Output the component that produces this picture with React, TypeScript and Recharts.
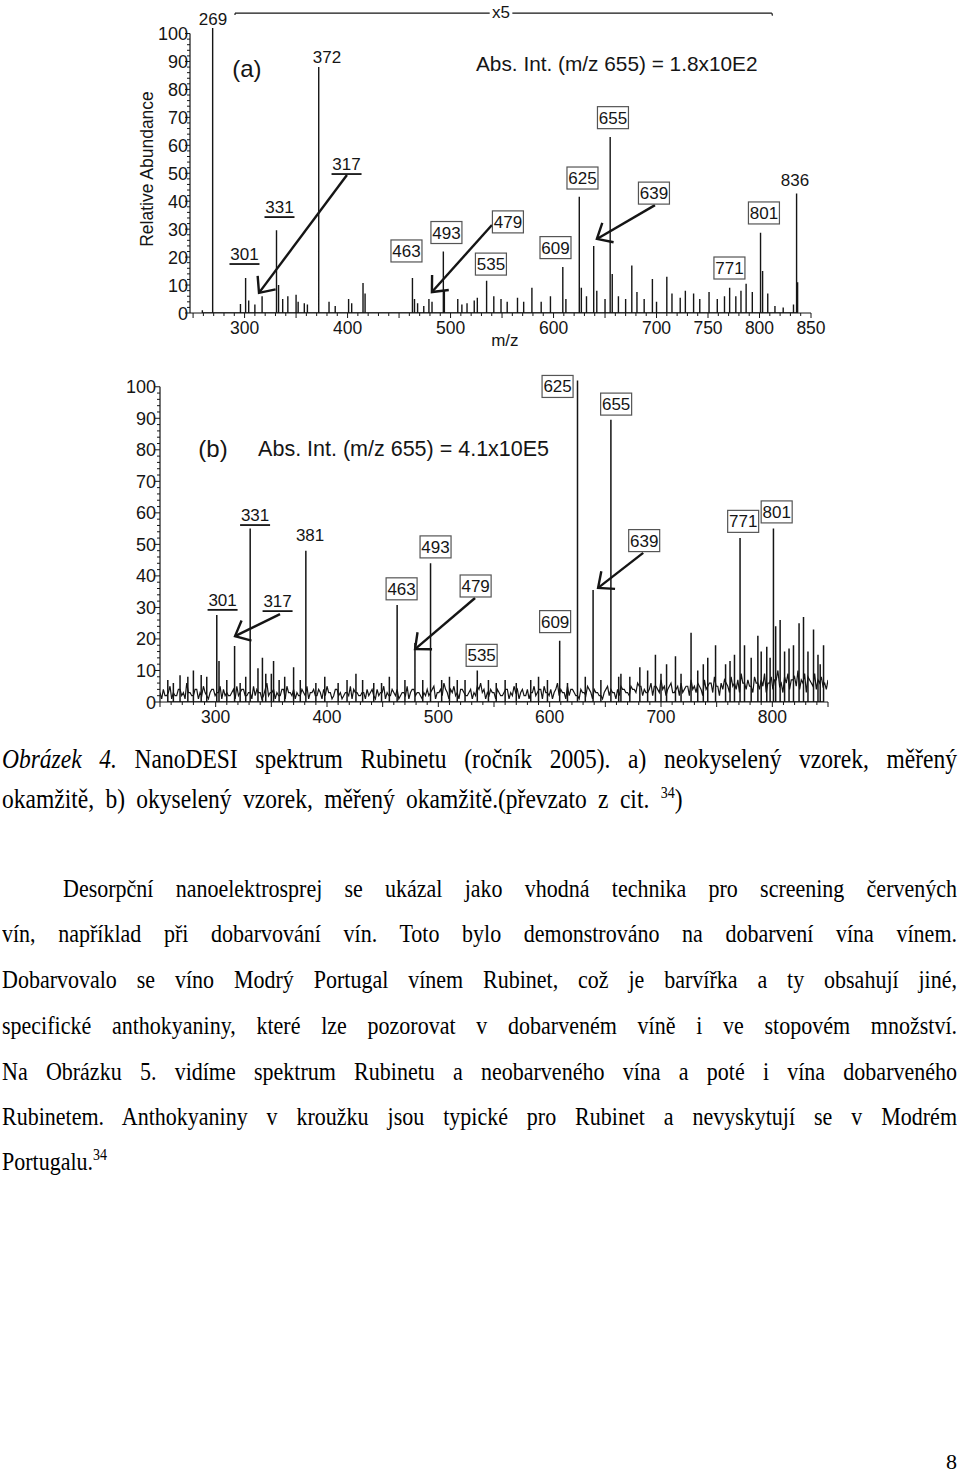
import React from 'react'
import { LineChart, Line, XAxis, YAxis, ReferenceLine, ReferenceDot } from 'recharts'

const SANS = '"Liberation Sans", Arial, Helvetica, sans-serif'
const SERIF = '"Liberation Serif", "Times New Roman", serif'
const INK = '#151515'

// ---- panel (a): unacidified sample, stick spectrum (m/z, relative abundance %) ----
const mzA = [259, 269, 296, 301, 304, 310, 317, 331, 333, 337, 342, 350, 352, 358, 361, 372, 382, 388, 401, 404, 415, 417, 463, 465, 468, 474, 479, 482, 493, 494, 507, 511, 516, 523, 526, 535, 542, 549, 555, 565, 571, 579, 588, 597, 609, 612, 625, 627, 632, 639, 642, 650, 655, 657, 663, 670, 676, 681, 688, 696, 700, 710, 715, 723, 728, 736, 742, 751, 759, 766, 771, 777, 782, 787, 793, 801, 803, 808, 815, 823, 833, 836, 837]
const abundA = [1, 102, 3.2, 12.5, 4.5, 3, 6, 29.6, 10, 5, 6, 6.5, 4, 3.5, 3, 88, 4, 2.5, 5, 3.5, 10.7, 7, 12.5, 5, 3.5, 2.5, 5, 4, 22, 8, 5, 3, 3.5, 4.5, 5.5, 11.5, 6, 5, 4, 5.5, 4, 9, 4, 6, 16.5, 5, 41.6, 9, 6, 24, 8, 5, 63, 14, 6, 5, 17, 7.5, 5, 12.2, 4, 13, 7, 5.5, 8, 7, 5, 7.5, 5, 6, 9, 6, 8, 10.5, 7.5, 28.7, 15, 7, 2.5, 2, 3, 42.8, 11]
const xLabelsA = [300, 400, 500, 600, 700, 750, 800, 850]

// annotations: [m/z, level, text]
const boxedA: [number, number, string][] = [
  [457.2, 22.2, '463'], [496, 28.8, '493'], [555.7, 32.6, '479'], [539.2, 17.5, '535'],
  [601.9, 23.4, '609'], [628.1, 48.3, '625'], [657.7, 69.9, '655'], [697.5, 42.9, '639'],
  [770.8, 16.1, '771'], [804.3, 35.8, '801'],
]
const underlinedA: [number, number, string][] = [[299.9, 21.1, '301'], [333.9, 37.9, '331'], [399, 53.3, '317']]
const plainA: [number, number, string][] = [[269.3, 105.2, '269'], [380, 91.6, '372'], [834.4, 47.6, '836'], [548.9, 107.7, 'x5']]
// arrows: [tail m/z, tail level, head m/z, head level]
const arrowsA: [number, number, number, number][] = [
  [399.4, 49.4, 314, 7.2], [540.2, 31.5, 481.9, 7.5], [698.5, 38.6, 642.1, 26.5],
]

// ---- panel (b): acidified sample, noisy baseline + peaks ----
const noiseStepB = 3
const noiseStartB = 250
const noiseB = [
  3, 4, 2, 5, 3, 2, 4, 3, 6, 3, 2, 4, 3, 5, 2, 3, 4, 3, 5, 4,
  3, 2, 4, 5, 3, 4, 2, 3, 5, 4, 3, 2, 6, 3, 4, 3, 2, 4, 5, 3,
  4, 3, 2, 3, 5, 3, 4, 2, 3, 4, 5, 3, 2, 4, 3, 2, 3, 5, 4, 3,
  2, 3, 4, 3, 2, 4, 3, 5, 3, 2, 3, 4, 2, 3, 5, 3, 4, 3, 2, 3,
  4, 3, 5, 3, 4, 6, 3, 4, 5, 3, 4, 3, 2, 4, 3, 5, 6, 4, 3, 4,
  3, 4, 2, 3, 4, 3, 5, 4, 3, 2, 4, 3, 5, 3, 4, 5, 3, 4, 3, 6,
  4, 3, 5, 4, 3, 2, 4, 3, 5, 3, 4, 3, 2, 3, 5, 4, 3, 4, 5, 4,
  3, 5, 4, 6, 5, 4, 3, 6, 5, 4, 7, 5, 4, 6, 3, 5, 6, 4, 5, 7,
  5, 6, 4, 7, 5, 6, 8, 5, 6, 7, 5, 8, 6, 7, 9, 6, 7, 5, 8, 6,
  7, 9, 6, 8, 7, 10, 6, 8, 9, 7, 8, 10, 7, 9, 8, 6, 9, 7, 8, 6,
  7,
]
// second read of the baseline, half a step further on
const noiseStartB2 = 251.5
const noiseB2 = [
  1, 2, 3, 1, 2, 4, 2, 1, 3, 2, 4, 1, 2, 3, 1, 4, 2, 3, 1, 2,
  2, 3, 1, 2, 4, 2, 3, 1, 2, 3, 1, 4, 2, 3, 1, 2, 4, 1, 3, 2,
  1, 2, 4, 2, 1, 3, 2, 4, 1, 2, 3, 1, 4, 2, 1, 3, 2, 1, 3, 2,
  3, 1, 2, 4, 1, 2, 3, 1, 2, 4, 2, 1, 3, 2, 1, 4, 2, 3, 1, 2,
  2, 4, 1, 3, 2, 4, 1, 3, 2, 1, 4, 2, 3, 1, 2, 4, 3, 1, 2, 3,
  1, 3, 2, 4, 1, 2, 3, 1, 4, 2, 1, 3, 2, 4, 1, 3, 2, 1, 4, 2,
  3, 1, 2, 4, 2, 1, 3, 2, 4, 1, 3, 2, 1, 4, 2, 3, 1, 2, 4, 3,
  2, 4, 3, 5, 2, 3, 4, 2, 5, 3, 4, 2, 5, 3, 4, 2, 3, 5, 2, 4,
  3, 5, 2, 4, 6, 3, 5, 2, 4, 6, 3, 5, 4, 3, 6, 4, 5, 3, 6, 4,
  5, 3, 6, 4, 7, 5, 3, 6, 4, 7, 5, 4, 6, 3, 7, 5, 4, 6, 5, 4,
]
const mzB = [257, 262, 268, 275, 280, 287, 292, 301, 303, 310, 317, 322, 327, 331, 338, 342, 345, 350, 352, 357, 362, 370, 376, 381, 390, 398, 410, 418, 426, 432, 442, 449, 456, 463, 470, 479, 486, 493, 503, 510, 517, 524, 535, 545, 552, 560, 570, 583, 590, 598, 609, 616, 625, 632, 639, 646, 655, 662, 664, 672, 681, 688, 695, 700, 705, 713, 718, 727, 733, 738, 742, 749, 758, 762, 766, 771, 775, 781, 787, 790, 795, 798, 801, 803, 807, 811, 815, 819, 824, 828, 832, 837, 841, 843, 846]
const abundB = [7, 6, 8.5, 8, 10, 8.6, 8, 27.6, 13, 7, 17.8, 6, 8, 55, 10.7, 14, 9, 9, 13, 7, 8, 11, 7, 48, 6, 8, 6, 7, 9, 7, 6, 6, 8, 30.8, 7, 18.7, 7, 44, 7, 8, 7, 7, 10, 7, 6, 7, 6, 7, 8, 7, 19.4, 6, 102, 8, 35.5, 7, 89.5, 8, 9, 8, 11, 10, 15, 9, 12, 14.5, 9, 22, 10, 12, 14, 18, 12, 13, 15, 52, 18, 14, 21, 16, 17.5, 14, 55, 24, 26, 16, 17, 18, 25, 27, 16, 23, 15, 12, 18]
const xLabelsB = [300, 400, 500, 600, 700, 800]

const boxedB: [number, number, string][] = [
  [467, 35.9, '463'], [497.5, 49.2, '493'], [533.5, 36.8, '479'], [538.9, 14.8, '535'],
  [604.9, 25.5, '609'], [607.1, 100.1, '625'], [659.7, 94.5, '655'], [684.9, 51.2, '639'],
  [773.8, 57.3, '771'], [803.9, 60.3, '801'],
]
const underlinedB: [number, number, string][] = [[306.2, 32.4, '301'], [335.4, 59.3, '331'], [355.6, 32, '317']]
const plainB: [number, number, string][] = [[384.8, 53, '381']]
const arrowsB: [number, number, number, number][] = [
  [357.8, 27.9, 317.4, 20.9], [533, 33, 479.1, 16.8], [684, 47.3, 643.5, 36.2],
]

// ---- helpers ----
const sticks = (mz: number[], ab: number[]) =>
  mz.flatMap((m, i) => [{ mz: m, v: 0 }, { mz: m, v: ab[i] }, { mz: m, v: 0 }])
const profile = (start: number, step: number, vals: number[]) =>
  vals.map((v, i) => ({ mz: start + i * step, v }))

const ruler = (from: number, to: number, step: number) => {
  const t: number[] = []
  for (let m = from; m <= to; m += step) t.push(m)
  return t
}
const yRuler = ruler(0, 100, 2)

const makeXTick = (labels: number[]) => (p: any) => {
  const v = p.payload.value
  return (
    <g>
      <line x1={p.x} x2={p.x} y1={p.y} y2={p.y + (v % 50 === 0 ? 5 : 3)} stroke={INK} strokeWidth={1} />
      {labels.includes(v) && (
        <text x={p.x} y={p.y + 21} textAnchor="middle" fontSize={17.5} fontFamily={SANS} fill={INK}>
          {v}
        </text>
      )}
    </g>
  )
}

const makeYTick = (gap: number) => (p: any) => {
  const v = p.payload.value
  const major = v % 10 === 0
  return (
    <g>
      <line x1={p.x - (major ? 5 : 3)} x2={p.x} y1={p.y} y2={p.y} stroke={INK} strokeWidth={1} />
      {major && (
        <text x={p.x - gap} y={p.y} dy={6.5} textAnchor="end" fontSize={18} fontFamily={SANS} fill={INK}>
          {v}
        </text>
      )}
    </g>
  )
}

const boxShape = (text: string) => (p: any) => (
  <g>
    <rect x={p.cx - 15.5} y={p.cy - 11} width={31} height={22} fill="#fff" stroke="#555" strokeWidth={1.2} />
    <text x={p.cx} y={p.cy} dy={6} textAnchor="middle" fontSize={17} fontFamily={SANS} fill={INK}>{text}</text>
  </g>
)

const underShape = (text: string) => (p: any) => (
  <g>
    <text x={p.cx} y={p.cy} dy={6} textAnchor="middle" fontSize={17} fontFamily={SANS} fill={INK}>{text}</text>
    <line x1={p.cx - 15} x2={p.cx + 15} y1={p.cy + 10} y2={p.cy + 10} stroke={INK} strokeWidth={1.8} />
  </g>
)

const textShape = (text: string, size: number, anchor = 'middle') => (p: any) => (
  <text x={p.cx} y={p.cy} dy={size * 0.36} textAnchor={anchor} fontSize={size} fontFamily={SANS} fill={INK}>
    {text}
  </text>
)

// tail -> head, open V head
const arrowShape = (p: any) => {
  const { x1, y1, x2, y2 } = p
  const ang = Math.atan2(y1 - y2, x1 - x2)
  const L = 17
  const s = 0.72
  const ax = x2 + L * Math.cos(ang - s)
  const ay = y2 + L * Math.sin(ang - s)
  const bx = x2 + L * Math.cos(ang + s)
  const by = y2 + L * Math.sin(ang + s)
  return (
    <g>
      <line x1={x1} y1={y1} x2={x2} y2={y2} stroke={INK} strokeWidth={2.4} />
      <polyline points={`${ax},${ay} ${x2},${y2} ${bx},${by}`} fill="none" stroke={INK} strokeWidth={2.4} />
    </g>
  )
}

const renderAnnotations = (
  boxed: [number, number, string][],
  underlined: [number, number, string][],
  plain: [number, number, string][],
  arrows: [number, number, number, number][],
) => [
  ...arrows.map(([tm, tv, hm, hv], i) => (
    <ReferenceLine key={`ar${i}`} segment={[{ x: tm, y: tv }, { x: hm, y: hv }]} shape={arrowShape} />
  )),
  ...boxed.map(([m, v, t]) => <ReferenceDot key={`bx${t}`} x={m} y={v} r={0} shape={boxShape(t)} />),
  ...underlined.map(([m, v, t]) => <ReferenceDot key={`ul${t}`} x={m} y={v} r={0} shape={underShape(t)} />),
  ...plain.map(([m, v, t]) => <ReferenceDot key={`pl${t}`} x={m} y={v} r={0} shape={textShape(t, 17)} />),
]

function SpectrumA() {
  const data = sticks(mzA, abundA)
  return (
    <LineChart width={960} height={360} margin={{ top: 0, right: 149, bottom: 17, left: 130 }}>
      <XAxis
        type="number"
        dataKey="mz"
        domain={[247, 850]}
        allowDataOverflow
        ticks={ruler(250, 850, 10)}
        interval={0}
        tick={makeXTick(xLabelsA)}
        tickLine={false}
        tickSize={0}
        tickMargin={0}
        height={30}
        stroke={INK}
        label={(p: any) => (
          <text x={p.viewBox.x + p.viewBox.width * 0.507} y={p.viewBox.y + 33} textAnchor="middle" fontSize={17} fontFamily={SANS} fill={INK}>
            m/z
          </text>
        )}
      />
      <YAxis
        type="number"
        domain={[0, 112]}
        allowDataOverflow
        ticks={yRuler}
        interval={0}
        tick={makeYTick(2)}
        tickLine={false}
        axisLine={false}
        tickSize={0}
        tickMargin={0}
        width={60}
        label={(p: any) => (
          <text
            transform={`translate(${p.viewBox.x + 17}, ${p.viewBox.y + p.viewBox.height * 0.54}) rotate(-90)`}
            textAnchor="middle"
            dominantBaseline="central"
            fontSize={17.5}
            fontFamily={SANS}
            fill={INK}
          >
            Relative Abundance
          </text>
        )}
      />
      <ReferenceLine segment={[{ x: 247, y: 0 }, { x: 247, y: 100 }]} stroke={INK} strokeWidth={1.2} />
      {/* x5 magnification bracket */}
      <ReferenceLine segment={[{ x: 290.7, y: 106.6 }, { x: 290.7, y: 107.3 }]} stroke={INK} strokeWidth={1.2} />
      <ReferenceLine segment={[{ x: 290.7, y: 107.3 }, { x: 538, y: 107.3 }]} stroke={INK} strokeWidth={1.2} />
      <ReferenceLine segment={[{ x: 560, y: 107.3 }, { x: 812, y: 107.3 }]} stroke={INK} strokeWidth={1.2} />
      <ReferenceLine segment={[{ x: 812, y: 107.3 }, { x: 812.6, y: 106.4 }]} stroke={INK} strokeWidth={1.2} />
      <Line data={data} dataKey="v" type="linear" stroke={INK} strokeWidth={1.4} dot={false} isAnimationActive={false} />
      {renderAnnotations(boxedA, underlinedA, plainA, arrowsA)}
      <ReferenceDot x={302.3} y={87.7} r={0} shape={textShape('(a)', 24)} />
      <ReferenceDot x={524.7} y={89.4} r={0} shape={textShape('Abs. Int. (m/z 655) = 1.8x10E2', 20.8, 'start')} />
    </LineChart>
  )
}

function SpectrumB() {
  const base = [...profile(noiseStartB, noiseStepB, noiseB), ...profile(noiseStartB2, noiseStepB, noiseB2)]
    .sort((a, b) => a.mz - b.mz)
  const peaks = sticks(mzB, abundB)
  return (
    <LineChart width={960} height={380} margin={{ top: 11, right: 132, bottom: 8, left: 100 }}>
      <XAxis
        type="number"
        dataKey="mz"
        domain={[250, 850]}
        allowDataOverflow
        ticks={ruler(250, 850, 10)}
        interval={0}
        tick={makeXTick(xLabelsB)}
        tickLine={false}
        tickSize={0}
        tickMargin={0}
        height={30}
        stroke={INK}
      />
      <YAxis
        type="number"
        domain={[0, 105]}
        allowDataOverflow
        ticks={yRuler}
        interval={0}
        tick={makeYTick(4)}
        tickLine={false}
        axisLine={false}
        tickSize={0}
        tickMargin={0}
        width={60}
      />
      <ReferenceLine segment={[{ x: 250, y: 0 }, { x: 250, y: 100 }]} stroke={INK} strokeWidth={1.2} />
      <Line data={base} dataKey="v" type="linear" stroke={INK} strokeWidth={1.2} dot={false} isAnimationActive={false} />
      <Line data={peaks} dataKey="v" type="linear" stroke={INK} strokeWidth={1.5} dot={false} isAnimationActive={false} />
      {renderAnnotations(boxedB, underlinedB, plainB, arrowsB)}
      <ReferenceDot x={297.6} y={80.6} r={0} shape={textShape('(b)', 24)} />
      <ReferenceDot x={338.1} y={80.6} r={0} shape={textShape('Abs. Int. (m/z 655) = 4.1x10E5', 21.5, 'start')} />
    </LineChart>
  )
}

function TextLine({
  base,
  justify = true,
  indent = 0,
  size = 22,
  wordSpacing = 0,
  children,
}: {
  base: number
  justify?: boolean
  indent?: number
  size?: number
  wordSpacing?: number
  children: React.ReactNode
}) {
  // baseline offset inside a 30px line box for Liberation Serif
  const off = (30 - 1.107 * size) / 2 + 0.891 * size
  return (
    <div
      style={{
        position: 'absolute',
        left: 2,
        width: 955,
        top: base - off,
        height: 30,
        lineHeight: '30px',
        fontSize: size,
        fontFamily: SERIF,
        color: '#000',
        wordSpacing,
        textAlign: justify ? 'justify' : 'left',
        textAlignLast: justify ? 'justify' : 'left',
        textIndent: indent,
        transform: 'scaleY(1.15)',
        transformOrigin: `0 ${off}px`,
      }}
    >
      {children}
    </div>
  )
}

const Sup = ({ children }: { children: React.ReactNode }) => (
  <span style={{ position: 'relative', top: -9, fontSize: 14, lineHeight: 0 }}>{children}</span>
)

export default function App() {
  return (
    <div style={{ position: 'fixed', left: 0, top: 0, width: 960, height: 1474, background: '#fff', overflow: 'hidden' }}>
      <div style={{ position: 'absolute', left: 0, top: 0 }}>
        <SpectrumA />
      </div>
      <div style={{ position: 'absolute', left: 0, top: 360 }}>
        <SpectrumB />
      </div>

      <TextLine base={767.5} size={23.5}>
        <i>Obrázek 4.</i> NanoDESI spektrum Rubinetu (ročník 2005). a) neokyselený vzorek, měřený
      </TextLine>
      <TextLine base={808} size={23.5} wordSpacing={5.5} justify={false}>
        okamžitě, b) okyselený vzorek, měřený okamžitě.(převzato z cit. <Sup>34</Sup>)
      </TextLine>

      <TextLine base={897} indent={61}>
        Desorpční nanoelektrosprej se ukázal jako vhodná technika pro screening červených
      </TextLine>
      <TextLine base={942.5}>
        vín, například při dobarvování vín. Toto bylo demonstrováno na dobarvení vína vínem.
      </TextLine>
      <TextLine base={988.5}>
        Dobarvovalo se víno Modrý Portugal vínem Rubinet, což je barvířka a ty obsahují jiné,
      </TextLine>
      <TextLine base={1034}>
        specifické anthokyaniny, které lze pozorovat v dobarveném víně i ve stopovém množství.
      </TextLine>
      <TextLine base={1080}>
        Na Obrázku 5. vidíme spektrum Rubinetu a neobarveného vína a poté i vína dobarveného
      </TextLine>
      <TextLine base={1125.5}>
        Rubinetem. Anthokyaniny v kroužku jsou typické pro Rubinet a nevyskytují se v Modrém
      </TextLine>
      <TextLine base={1170.5} justify={false}>
        Portugalu.<Sup>34</Sup>
      </TextLine>

      <div
        style={{
          position: 'absolute',
          right: 3,
          top: 1469 - 18.4,
          height: 22,
          lineHeight: '22px',
          fontSize: 22,
          fontFamily: SERIF,
          color: '#000',
        }}
      >
        8
      </div>
    </div>
  )
}
